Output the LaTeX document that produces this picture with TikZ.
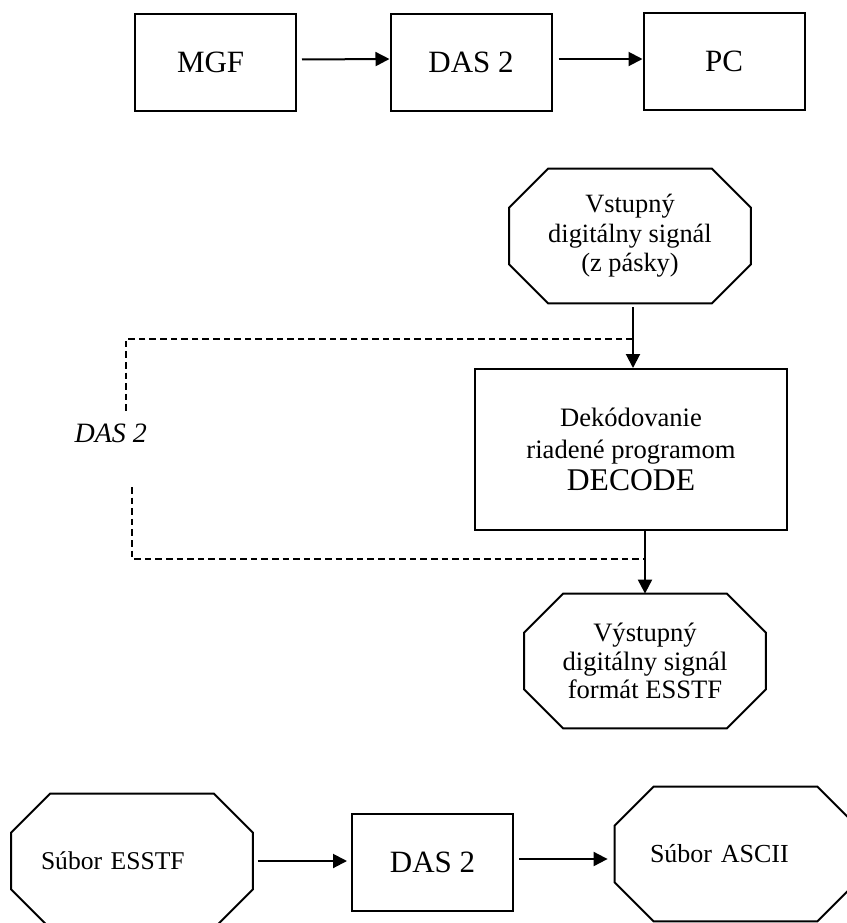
\documentclass[tikz,border=0pt]{standalone}
\usepackage{fontspec}
\setmainfont{Liberation Serif}
\usetikzlibrary{arrows.meta}
\tikzset{
  B/.style    = {draw, line width=1pt, inner sep=0pt, align=center},
  blk/.style  = {B, minimum width=80.5pt, minimum height=48.5pt,
                 font=\fontsize{15.5}{18}\selectfont},
  % octagon: the node is a bare box, its outline is cut at the corners
  oct/.style  = {inner sep=0pt, align=center,
                 minimum width=120.5pt, minimum height=67pt,
                 font=\fontsize{13.2}{14.8}\selectfont,
                 append after command={\pgfextra{\let\octnode\tikzlastnode
                   \draw[line width=1pt, line join=miter]
                     ([xshift=19.5pt]\octnode.north west) -- ([xshift=-19.5pt]\octnode.north east)
                     -- ([yshift=-19.5pt]\octnode.north east) -- ([yshift=19.5pt]\octnode.south east)
                     -- ([xshift=-19.5pt]\octnode.south east) -- ([xshift=19.5pt]\octnode.south west)
                     -- ([yshift=19.5pt]\octnode.south west) -- ([yshift=-19.5pt]\octnode.north west)
                     -- cycle;}}},
  decB/.style = {B, minimum width=156pt, minimum height=80.5pt,
                 font=\fontsize{13.3}{16}\selectfont},
  A/.style    = {-{Triangle[length=7pt,width=7pt]}, line width=1pt},
  D/.style    = {line width=0.7pt, dash pattern=on 3.3pt off 2pt},
}

\begin{document}
\begin{tikzpicture}[x=0.5pt, y=-0.5pt]
\useasboundingbox (0,0) rectangle (847,923);
\clip (0,0) rectangle (847,923);

%% top chain
\node[blk, text width=38.5pt, align=left] (mgf) at (215.5,62.5) {MGF};
\node[blk] (das) at (471,62) {DAS 2};
\node[blk] (pc)  at (724,61) {PC};

\draw[A, shorten <=2.5pt] ([yshift=1.5pt]mgf.east) -- ([yshift=1.5pt]das.west);
\draw[A, shorten <=3pt]   ([yshift=1.5pt]das.east) -- ([yshift=1.5pt]das.east -| pc.west);

%% decoding
\node[oct] (in) at (630,236) {Vstupný\\digitálny signál\\(z pásky)};
\node[decB] (dec) at (631,449.5)
  {Dekódovanie\\riadené programom\\{\fontsize{15.8}{17}\selectfont DECODE}};
\node[oct, font=\fontsize{13.3}{14.3}\selectfont] (out) at (645,661)
  {Výstupný\\digitálny signál\\formát ESSTF};

\draw[A, shorten <=2pt] ([xshift=1.5pt]in.south) -- ([xshift=1.5pt]in.south |- dec.north);
\draw[A] (out.north |- dec.south) -- (out.north);

%% DAS 2 frame
\node[font=\itshape\fontsize{14}{16}\selectfont, anchor=base east] (lbl) at (154,442) {DAS 2};
\coordinate (fTop)  at (126,339);
\coordinate (fMid1) at (126,413);
\coordinate (fMid2) at (132,487);
\coordinate (fBot)  at (132,559);
\draw[D] ([xshift=1.5pt]in.south |- fTop) -- (fTop) -- (fMid1);
\draw[D] (fMid2) -- (fBot) -- (out.north |- fBot);

%% conversion
\node[oct, text width=91pt, align=left, font=\fontsize{12.8}{15}\selectfont]
  (esstf) at (132,861) {Súbor ESSTF};
\node[blk] (das2) at (432.5,862) {DAS 2};
\node[oct, text width=85.5pt, align=left, font=\fontsize{13}{15}\selectfont]
  (ascii) at (735.5,854) {Súbor ASCII};

\draw[A, shorten <=2.5pt, shorten >=2pt] (esstf.east) -- (esstf.east -| das2.west);
\draw[A, shorten <=2.5pt, shorten >=3.5pt] ([yshift=1.5pt]das2.east) -- ([yshift=1.5pt]das2.east -| ascii.west);

\end{tikzpicture}
\end{document}
